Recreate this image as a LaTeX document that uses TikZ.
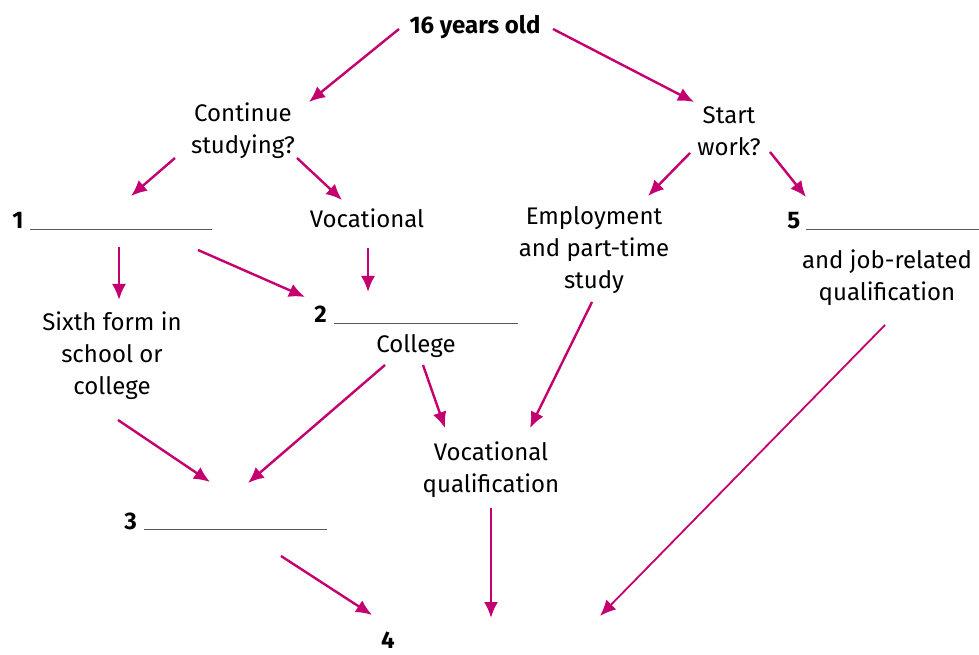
\documentclass[tikz,border=0pt]{standalone}
\usepackage{fontspec}
\setmainfont{Fira Sans}
\usetikzlibrary{arrows.meta}
\definecolor{arrowmag}{RGB}{196,0,112}
\newcommand{\blankline}[1]{\textcolor{black!65}{\rule[-0.6pt]{#1}{0.7pt}}}

\begin{document}
\begin{tikzpicture}[x=0.5pt,y=0.5pt,
  every node/.style={font=\fontsize{12}{16}\selectfont, align=center, inner sep=2pt},
  arr/.style={draw=arrowmag, line width=1.2pt, -{Latex[length=8pt,width=7pt]}},
  blank/.style={anchor=base west, inner sep=0pt}]
  \useasboundingbox (0,0) rectangle (979,654);

  % top level
  \node (top) at (475,627) {\textbf{16 years old}};
  \node (cont) at (243,523) {Continue\\studying?};
  \node (start) at (729,523) {Start\\work?};

  % second level
  \node[blank] (b1) at (12,425) {\textbf{1}\hspace{3pt}\blankline{91pt}};
  \node (voc) at (367,436) {Vocational};
  \node (emp) at (594,404) {Employment\\and part-time\\study};
  \node[blank] (b5) at (787,425) {\textbf{5}\hspace{3pt}\blankline{88pt}};
  \node (jobq) at (887,376.5) {and job-related\\qualification};

  % third level
  \node[blank] (b2) at (314,331) {\textbf{2}\hspace{3.5pt}\blankline{92pt}};
  \node (coll) at (416,308) {College};
  \node (sixth) at (112,298) {Sixth form in\\school or\\college};
  \node (vq) at (491,184.5) {Vocational\\qualification};
  \node[blank] (b3) at (124,125) {\textbf{3}\hspace{3.5pt}\blankline{91.5pt}};
  \node[anchor=base, inner sep=0pt] (b4) at (388,6) {\textbf{4}};

  % arrows
  \draw[arr] ([shift={(-76,-2)}]top.center) -- ([shift={(66,29)}]cont.center);
  \draw[arr] ([shift={(78,-2)}]top.center) -- ([shift={(-35,29)}]start.center);
  \draw[arr] ([shift={(-68,-27)}]cont.center) -- ([shift={(119,33)}]b1.base west);
  \draw[arr] ([shift={(54,-27)}]cont.center) -- ([shift={(-25,18)}]voc.center);
  \draw[arr] ([shift={(-39,-22)}]start.center) -- ([shift={(54,54)}]emp.center);
  \draw[arr] ([shift={(41,-21)}]start.center) -- ([shift={(19,32)}]b5.base west);
  \draw[arr] ([shift={(107,-18)}]b1.base west) -- ([shift={(107,-71)}]b1.base west);
  \draw[arr] ([shift={(186,-21)}]b1.base west) -- ([shift={(-9,26)}]b2.base west);
  \draw[arr] ([shift={(1,-30)}]voc.center) -- ([shift={(54,31)}]b2.base west);
  \draw[arr] ([shift={(6,-64)}]sixth.center) -- ([shift={(86,47)}]b3.base west);
  \draw[arr] ([shift={(-31,-19)}]coll.center) -- ([shift={(124,46)}]b3.base west);
  \draw[arr] ([shift={(7,-19)}]coll.center) -- ([shift={(-46,41.5)}]vq.center);
  \draw[arr] ([shift={(-2,-52)}]emp.center) -- ([shift={(39,41.5)}]vq.center);
  \draw[arr] ([shift={(0,-38.5)}]vq.center) -- ([shift={(103,30)}]b4.base);
  \draw[arr, line width=0.9pt] ([shift={(-2,-47.5)}]jobq.center) -- ([shift={(212,32)}]b4.base);
  \draw[arr] ([shift={(157,-27)}]b3.base west) -- ([shift={(-16,33)}]b4.base);
\end{tikzpicture}
\end{document}
